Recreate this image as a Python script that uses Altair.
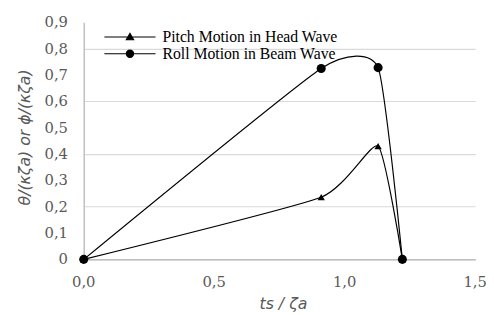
import altair as alt
import pandas as pd

x_vals = [0.0, 0.91, 1.128, 1.221]
pitch_vals = [0.0, 0.236, 0.43, 0.0]
roll_vals = [0.0, 0.725, 0.728, 0.0]
series_names = ["Pitch Motion in Head Wave", "Roll Motion in Beam Wave"]
x_ticks = [0.0, 0.5, 1.0, 1.5]
y_ticks = [0.0, 0.1, 0.2, 0.3, 0.4, 0.5, 0.6, 0.7, 0.8, 0.9]
x_title = "ts / ζa"
y_title = "θ/(κζa) or ϕ/(κζa)"

rows = []
for xv, pv in zip(x_vals, pitch_vals):
    rows.append({"x": xv, "y": pv, "series": series_names[0]})
for xv, rv in zip(x_vals, roll_vals):
    rows.append({"x": xv, "y": rv, "series": series_names[1]})
df = pd.DataFrame(rows)

x_lab = pd.DataFrame({"v": x_ticks,
                      "label": [f"{v:.1f}".replace(".", ",") for v in x_ticks]})
y_lab = pd.DataFrame({"v": y_ticks,
                      "label": ["0" if v == 0 else f"{v:.1f}".replace(".", ",") for v in y_ticks]})

GREY = "#595959"
LABEL_FONT = "DejaVu Serif"
TITLE_FONT = "DejaVu Sans"

xs = alt.Scale(domain=[0, 1.5], nice=False)
ys = alt.Scale(domain=[0, 0.9], nice=False)

x_enc = alt.X("x:Q", scale=xs,
              axis=alt.Axis(values=x_ticks, labels=False, title=None, grid=False,
                            ticks=False, domainColor="#bfbfbf", domainWidth=1.5))
y_enc = alt.Y("y:Q", scale=ys,
              axis=alt.Axis(values=y_ticks, labels=False, title=None, grid=True,
                            ticks=False, domainColor="#bfbfbf", domainWidth=1.5,
                            gridColor="#d9d9d9", gridWidth=1.2))

base = alt.Chart(df).encode(x=x_enc, y=y_enc)

lines = base.mark_line(interpolate="cardinal", tension=0.5, color="black",
                       strokeWidth=1.2).encode(detail="series:N")

tri = base.transform_filter(alt.datum.series == series_names[0]).mark_point(
    shape="triangle-up", filled=True, color="black", size=55, opacity=1)
circ = base.transform_filter(alt.datum.series == series_names[1]).mark_point(
    shape="circle", filled=True, color="black", size=85, opacity=1)

# legend symbols: a line through a marker (unit = 5 px at symbolSize 100)
pitch_sym = "M-5.2,0H5.2M0,-0.75L0.75,0.55L-0.75,0.55Z"
roll_sym = "M-5.2,0H5.2M-0.75,0A0.75,0.75 0 1,0 0.75,0A0.75,0.75 0 1,0 -0.75,0Z"

legend_layer = base.transform_filter("false").mark_point(
    filled=False, color="black", fill="black", strokeWidth=1.1, opacity=1).encode(
    shape=alt.Shape("series:N",
                    scale=alt.Scale(domain=series_names, range=[pitch_sym, roll_sym]),
                    legend=alt.Legend(title=None, orient="none", legendX=39, legendY=7,
                                      symbolSize=100,
                                      symbolStrokeWidth=1.1,
                                      labelFont="Liberation Serif", labelFontSize=16,
                                      labelColor="black",
                                      labelOffset=25, rowPadding=1, padding=0,
                                      labelLimit=400)))

# tick labels drawn from the tick arrays through the same scales
x_labels = alt.Chart(x_lab).mark_text(
    font=LABEL_FONT, fontSize=15, color=GREY, baseline="middle", align="center").encode(
    x=alt.X("v:Q", scale=xs), y=alt.value(264), text="label:N")
y_labels = alt.Chart(y_lab).mark_text(
    font=LABEL_FONT, fontSize=15, color=GREY, baseline="middle", align="right").encode(
    y=alt.Y("v:Q", scale=ys), x=alt.value(-16), text="label:N")

x_title_mark = alt.Chart(pd.DataFrame({"t": [x_title]})).mark_text(
    font=TITLE_FONT, fontSize=16, fontStyle="italic", color=GREY,
    baseline="middle", align="center").encode(
    x=alt.value(203), y=alt.value(286), text="t:N")
y_title_mark = alt.Chart(pd.DataFrame({"t": [y_title]})).mark_text(
    font=TITLE_FONT, fontSize=16, fontStyle="italic", color=GREY,
    baseline="middle", align="center", angle=270).encode(
    x=alt.value(-60), y=alt.value(117), text="t:N")

chart = alt.layer(lines, tri, circ, legend_layer, x_labels, y_labels,
                  x_title_mark, y_title_mark).properties(
    width=398, height=241,
    autosize=alt.AutoSizeParams(type="none"),
    padding={"left": 77, "top": 12, "right": 11, "bottom": 54},
).configure(background="white").configure_view(stroke=None)

chart.save("out.html", embed_options={"renderer": "svg", "actions": False})
